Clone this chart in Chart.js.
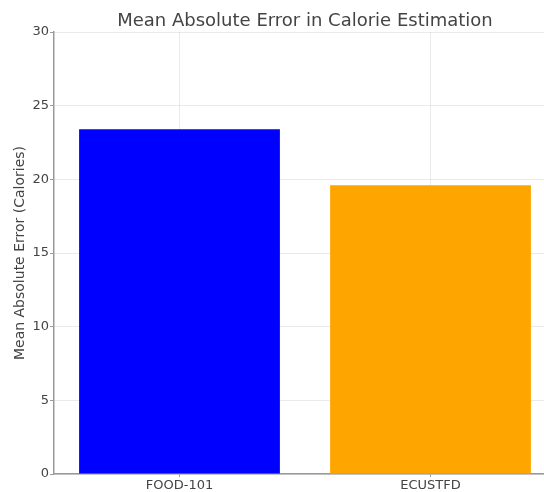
<!DOCTYPE html>
<html>
<head>
<meta charset="utf-8">
<script src="https://cdn.jsdelivr.net/npm/chart.js@4/dist/chart.umd.min.js"></script>
<style>
  html, body { margin: 0; padding: 0; background: #fff; overflow: hidden; width: 544px; height: 492px; }
  #wrap { position: relative; width: 560px; height: 492px; }
</style>
</head>
<body>
<div id="wrap"><canvas id="c" width="560" height="492"></canvas></div>
<script>
const categories = ["FOOD-101", "ECUSTFD"];
const maeValues = [23.4, 19.6];
const barColors = ["#0000ff", "#ffa500"];
const yTicks = [0, 5, 10, 15, 20, 25, 30];
const titleText = "Mean Absolute Error in Calorie Estimation";
const yLabel = "Mean Absolute Error (Calories)";

const FONT = "'DejaVu Sans', sans-serif";
const gridColor = "rgba(160,160,160,0.22)";
const spineColor = "#9a9a9a";
const textColor = "#444";

new Chart(document.getElementById("c"), {
  type: "bar",
  data: {
    labels: categories,
    datasets: [{
      data: maeValues,
      backgroundColor: barColors,
      borderWidth: 0,
      barPercentage: 0.8,
      categoryPercentage: 1.0
    }]
  },
  options: {
    responsive: false,
    animation: false,
    devicePixelRatio: 1,
    layout: { padding: { left: 0, right: 4, top: 0, bottom: 0 } },
    plugins: {
      legend: { display: false },
      tooltip: { enabled: false },
      title: {
        display: true,
        text: titleText,
        fullSize: false,
        color: textColor,
        font: { family: FONT, size: 18, weight: "normal", lineHeight: 1.1 },
        padding: { top: 11, bottom: 1.2 }
      }
    },
    scales: {
      x: {
        z: 1,
        offset: true,
        grid: { display: true, offset: false, color: gridColor, tickColor: spineColor, tickLength: 3, drawOnChartArea: true },
        border: { display: true, color: spineColor, width: 1.5 },
        ticks: { color: textColor, font: { family: FONT, size: 13 }, padding: 1, maxRotation: 0 },
        afterFit: (s) => { s.height = 18; }
      },
      y: {
        z: 1,
        min: 0,
        max: 30,
        afterBuildTicks: (s) => { s.ticks = yTicks.map(v => ({ value: v })); },
        grid: { color: gridColor, tickColor: spineColor, tickLength: 4 },
        border: { display: true, color: spineColor, width: 1.5 },
        ticks: { color: textColor, font: { family: FONT, size: 13 }, padding: 1 },
        title: {
          display: true,
          text: yLabel,
          color: textColor,
          font: { family: FONT, size: 14, lineHeight: 1.2 },
          padding: { top: 12, bottom: 0 }
        },
        afterFit: (s) => { s.width = 54; }
      }
    }
  }
});
</script>
</body>
</html>
